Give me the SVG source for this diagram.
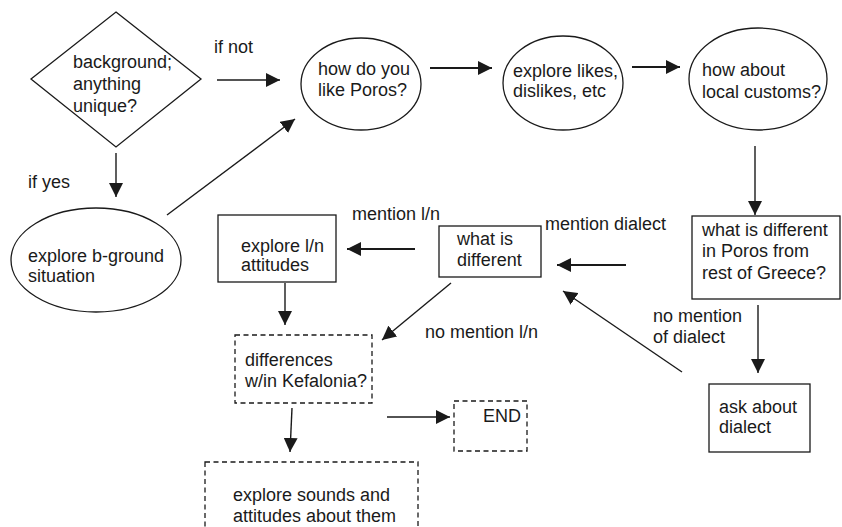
<svg xmlns="http://www.w3.org/2000/svg" width="842" height="527" viewBox="0 0 842 527">
<style>
text { font-family: "Liberation Sans", Arial, sans-serif; font-size: 18px; fill: #1a1a1a; }
.shape { fill: #fff; stroke: #1a1a1a; stroke-width: 1.3; }
.dash { stroke-dasharray: 5 3.5; }
.c { fill: none; stroke: #1a1a1a; stroke-width: 1.4; marker-end: url(#ah); }
.t { stroke-width: 2; }
.n { fill: none; stroke: #1a1a1a; stroke-width: 1.3; }
</style>
<defs>
<marker id="ah" markerUnits="userSpaceOnUse" markerWidth="15" markerHeight="14" refX="14" refY="7" orient="auto">
<path d="M0,0 L14,7 L0,14 z" fill="#1a1a1a"/>
</marker>
</defs>
<rect width="842" height="527" fill="#fff"/>

<g id="connectors">
<line class="c" x1="217" y1="80" x2="280" y2="80"/>
<line class="c" x1="116" y1="153" x2="116" y2="197"/>
<line class="c" x1="167" y1="215" x2="295" y2="119"/>
<line class="c t" x1="430" y1="68" x2="492" y2="68"/>
<line class="c t" x1="632" y1="67" x2="680" y2="67"/>
<line class="c" x1="755" y1="146" x2="755" y2="215"/>
<line class="c" x1="758" y1="305" x2="758" y2="373"/>
<line class="c t" x1="626" y1="265" x2="557" y2="265"/>
<line class="c" x1="682" y1="372" x2="563" y2="291"/>
<line class="c t" x1="415" y1="249" x2="347" y2="249"/>
<line class="c" x1="285" y1="283" x2="285" y2="325"/>
<line class="c" x1="451" y1="283" x2="382" y2="340"/>
<line class="c" x1="292" y1="408" x2="290" y2="452"/>
<line class="c" x1="387" y1="417" x2="450" y2="417"/>
<text x="214" y="53">if not</text>
<text x="28" y="188">if yes</text>
<text x="352" y="220">mention l/n</text>
<text x="545" y="230">mention dialect</text>
<text x="425" y="338">no mention l/n</text>
<text x="653" y="322">no mention</text>
<text x="653" y="343">of dialect</text>
</g>

<g id="n-background">
<polygon class="shape" points="116,12 201,79 116,147 31,79"/>
<text x="73" y="68">background;</text>
<text x="73" y="90">anything</text>
<text x="73" y="112">unique?</text>
</g>

<g id="n-poros">
<ellipse class="shape" cx="361" cy="84" rx="60" ry="46"/>
<text x="318" y="75">how do you</text>
<text x="318" y="96">like Poros?</text>
</g>

<g id="n-likes">
<ellipse class="shape" cx="563" cy="83" rx="60" ry="47"/>
<text x="513" y="77">explore likes,</text>
<text x="513" y="97">dislikes, etc</text>
</g>

<g id="n-customs">
<ellipse class="shape" cx="758" cy="79" rx="69" ry="51"/>
<text x="702" y="76">how about</text>
<text x="702" y="98">local customs?</text>
</g>

<g id="n-bground">
<ellipse class="shape" cx="96" cy="260" rx="85" ry="52"/>
<text x="28" y="262">explore b-ground</text>
<text x="28" y="282">situation</text>
</g>

<g id="n-explore-ln">
<rect class="shape" x="218" y="215" width="118" height="67"/>
<text x="241" y="252">explore l/n</text>
<text x="241" y="271">attitudes</text>
</g>

<g id="n-whatdiff">
<rect class="shape" x="439" y="226" width="102" height="51"/>
<text x="457" y="245">what is</text>
<text x="457" y="266">different</text>
</g>

<g id="n-poros-diff">
<rect class="shape" x="692" y="216" width="148" height="83"/>
<text x="702" y="236">what is different</text>
<text x="702" y="257">in Poros from</text>
<text x="702" y="279">rest of Greece?</text>
</g>

<g id="n-ask-dialect">
<rect class="shape" x="709" y="384" width="101" height="68"/>
<text x="719" y="413">ask about</text>
<text x="719" y="433">dialect</text>
</g>

<g id="n-kefalonia">
<rect class="shape dash" x="235" y="335" width="137" height="68"/>
<text x="245" y="366">differences</text>
<text x="245" y="387">w/in Kefalonia?</text>
</g>

<g id="n-end">
<rect class="shape dash" x="454" y="401" width="73" height="50"/>
<text x="483" y="422">END</text>
</g>

<g id="n-sounds">
<rect class="shape dash" x="205" y="462" width="213" height="70"/>
<text x="233" y="501">explore sounds and</text>
<text x="233" y="522">attitudes about them</text>
</g>
</svg>
